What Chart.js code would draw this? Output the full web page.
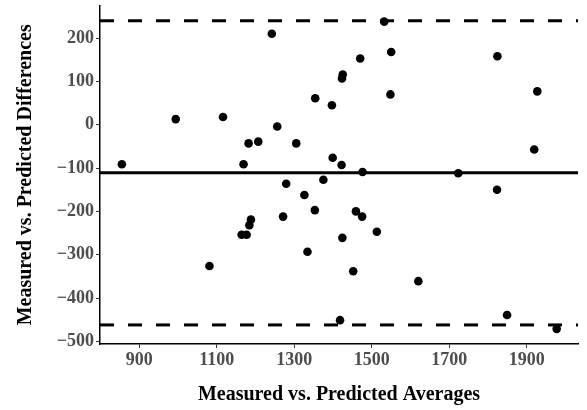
<!DOCTYPE html>
<html>
<head>
<meta charset="utf-8">
<script src="https://cdn.jsdelivr.net/npm/chart.js@4.4.1/dist/chart.umd.min.js"></script>
<style>
  html, body { margin: 0; padding: 0; background: #ffffff; }
  #wrap { width: 587px; height: 410px; }
</style>
</head>
<body>
<div id="wrap"><canvas id="c" width="587" height="410"></canvas></div>
<script>
// ---- Data ----
const averages = [855, 994, 1116, 1242, 1256, 1182, 1207, 1169, 1305, 1354,
                  1397, 1399, 1425, 1423, 1422, 1279, 1375, 1326, 1532, 1470,
                  1550, 1548, 1824, 1927, 1919, 1476, 1723, 1823, 1353, 1271,
                  1188, 1184, 1164, 1177, 1334, 1081, 1424, 1418, 1459, 1475,
                  1513, 1452, 1620, 1849, 1977];
const differences = [-91, 13, 18, 210, -4, -43, -39, -91, -43, 61,
                     45, -76, 116, 107, -93, -136, -127, -162, 238, 153,
                     168, 70, 158, 77, -57, -109, -112, -150, -197, -212,
                     -219, -232, -254, -254, -293, -326, -261, -451, -200, -212,
                     -247, -338, -361, -439, -471];
const meanDifference = -111;
const upperLimit = 240;
const lowerLimit = -462;
const xTickValues = [900, 1100, 1300, 1500, 1700, 1900];
const yTickValues = [-500, -400, -300, -200, -100, 0, 100, 200];
const xLimits = [798.6, 2032];
const yLimits = [-506, 275];
const xTitle = 'Measured vs. Predicted Averages';
const yTitle = 'Measured vs. Predicted Differences';

const points = averages.map((a, i) => ({ x: a, y: differences[i] }));
const hLine = v => [{ x: xLimits[0], y: v }, { x: xLimits[1], y: v }];

const serif = "'Liberation Serif', 'Times New Roman', serif";
const xTickFont = { family: serif, size: 18, weight: 'bold' };
const yTickFont = { family: serif, size: 18, weight: 'bold', lineHeight: 0.4 };
const titleFont = { family: serif, size: 20, weight: 'bold' };

new Chart(document.getElementById('c'), {
  type: 'scatter',
  data: {
    datasets: [
      { label: 'points', data: points, order: 0,
        backgroundColor: '#000', borderColor: '#000', pointRadius: 4.3, pointBorderWidth: 0 },
      { label: 'mean', data: hLine(meanDifference), order: 1, showLine: true,
        borderColor: '#000', borderWidth: 3, pointRadius: 0 },
      { label: 'upper', data: hLine(upperLimit), order: 1, showLine: true,
        borderColor: '#000', borderWidth: 3, pointRadius: 0, borderDash: [14, 14] },
      { label: 'lower', data: hLine(lowerLimit), order: 1, showLine: true,
        borderColor: '#000', borderWidth: 3, pointRadius: 0, borderDash: [14, 14] }
    ]
  },
  options: {
    responsive: false,
    animation: false,
    devicePixelRatio: 1,
    layout: { padding: { left: 0, right: 9, top: 4, bottom: 0 } },
    plugins: { legend: { display: false }, tooltip: { enabled: false } },
    scales: {
      x: {
        type: 'linear', min: xLimits[0], max: xLimits[1],
        afterBuildTicks: s => { s.ticks = xTickValues.map(v => ({ value: v })); },
        afterFit: s => { s.height = 66; },
        grid: { drawOnChartArea: false, drawTicks: true, tickLength: 4, color: '#333333', lineWidth: 1 },
        border: { display: true, color: '#000', width: 1.5 },
        ticks: { font: xTickFont, color: '#4d4d4d', padding: 2, maxRotation: 0, autoSkip: false,
                 callback: v => String(v) },
        title: { display: true, text: xTitle, font: titleFont, color: '#000', padding: { top: 4, bottom: 3 } }
      },
      y: {
        type: 'linear', min: yLimits[0], max: yLimits[1],
        afterBuildTicks: s => { s.ticks = yTickValues.map(v => ({ value: v })); },
        afterFit: s => { s.width = 100; },
        grid: { drawOnChartArea: false, drawTicks: true, tickLength: 4, color: '#333333', lineWidth: 1 },
        border: { display: true, color: '#000', width: 1.5 },
        ticks: { font: yTickFont, color: '#4d4d4d', padding: 2, autoSkip: false,
                 callback: v => String(v).replace('-', '\u2212') },
        title: { display: true, text: yTitle, font: titleFont, color: '#000', padding: { top: 14, bottom: 0 } }
      }
    }
  }
});
</script>
</body>
</html>
